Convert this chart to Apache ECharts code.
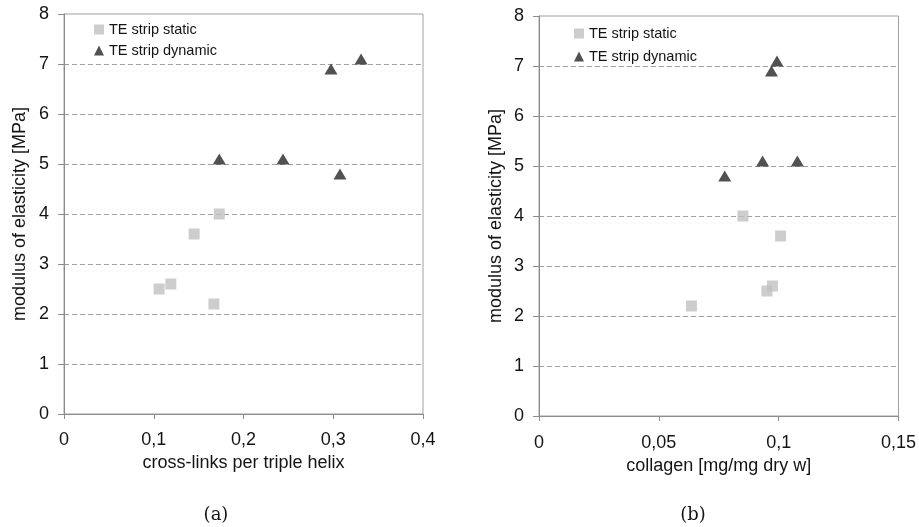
<!DOCTYPE html>
<html>
<head>
<meta charset="utf-8">
<script src="https://cdn.jsdelivr.net/npm/echarts@6/dist/echarts.min.js"></script>
<style>
  html, body { margin: 0; padding: 0; background: #fff; }
  #chart { width: 919px; height: 527px; }
</style>
</head>
<body>
<div id="chart"></div>
<script>
// Panel (a): modulus vs. cross-links per triple helix
const crossLinksStatic = [0.106, 0.119, 0.145, 0.173, 0.167];
const modulusStaticA = [2.5, 2.6, 3.6, 4.0, 2.2];
const crossLinksDynamic = [0.173, 0.244, 0.2975, 0.331, 0.3075];
const modulusDynamicA = [5.1, 5.1, 6.9, 7.1, 4.8];

// Panel (b): modulus vs. collagen content
const collagenStatic = [0.0636, 0.0851, 0.1008, 0.0951, 0.0974];
const modulusStaticB = [2.2, 4.0, 3.6, 2.5, 2.6];
const collagenDynamic = [0.0775, 0.0933, 0.1078, 0.097, 0.0993];
const modulusDynamicB = [4.8, 5.1, 5.1, 6.9, 7.1];

const seriesNames = ['TE strip static', 'TE strip dynamic'];
const xAxisTitles = ['cross-links per triple helix', 'collagen [mg/mg dry w]'];
const yAxisTitle = 'modulus of elasticity [MPa]';
const panelCaptions = ['(a)', '(b)'];

const zip = (xs, ys) => xs.map((x, i) => [x, ys[i]]);
const commaNum = v => String(Number(v.toFixed(3))).replace('.', ',');

const FONT = '"Liberation Sans", Arial, sans-serif';
const axisGrey = '#8c8c8c';
const ink = '#141414';

function xAxisFor(gridIndex, max, interval, title, nameGap, margin) {
  return {
    type: 'value', gridIndex, min: 0, max, interval,
    name: title, nameLocation: 'middle', nameGap,
    nameTextStyle: { fontFamily: FONT, fontSize: 18, color: ink },
    axisLine: { show: true, lineStyle: { color: axisGrey, width: 1 } },
    axisTick: { show: true, length: 5, lineStyle: { color: axisGrey } },
    axisLabel: { fontFamily: FONT, fontSize: 18, color: ink, margin, formatter: commaNum },
    splitLine: { show: false }
  };
}

function yAxisFor(gridIndex, nameGap) {
  return {
    type: 'value', gridIndex, min: 0, max: 8, interval: 1,
    name: yAxisTitle, nameLocation: 'middle', nameGap, nameRotate: 90,
    nameTextStyle: { fontFamily: FONT, fontSize: 18, color: ink },
    axisLine: { show: true, lineStyle: { color: axisGrey, width: 1 } },
    axisTick: { show: true, length: 6, lineStyle: { color: axisGrey } },
    axisLabel: { fontFamily: FONT, fontSize: 18, color: ink, margin: 15 },
    splitLine: {
      show: true,
      lineStyle: { color: '#a0a0a0', type: [5, 3], width: 1 },
      showMinLine: false, showMaxLine: false
    }
  };
}

function legendAt(left, top, gap) {
  return {
    orient: 'vertical', left, top, itemGap: gap, padding: 0,
    itemWidth: 10, itemHeight: 10,
    textStyle: { fontFamily: FONT, fontSize: 14.5, color: ink, lineHeight: 12 },
    data: [
      { name: seriesNames[0], icon: 'rect' },
      { name: seriesNames[1], icon: 'triangle' }
    ],
    selectedMode: false
  };
}

const staticStyle = { symbol: 'rect', symbolSize: 11, itemStyle: { color: '#c0c0c0' } };
const dynamicStyle = { symbol: 'triangle', symbolSize: [13, 11], itemStyle: { color: '#262626' } };

const option = {
  animation: false,
  backgroundColor: '#ffffff',
  grid: [
    { left: 64, right: 496, top: 14, bottom: 113, show: true, borderColor: '#a0a0a0', borderWidth: 1 },
    { left: 539, right: 20, top: 16, bottom: 111, show: true, borderColor: '#a0a0a0', borderWidth: 1 }
  ],
  xAxis: [
    xAxisFor(0, 0.4, 0.1, xAxisTitles[0], 37, 17),
    xAxisFor(1, 0.15, 0.05, xAxisTitles[1], 38, 18)
  ],
  yAxis: [yAxisFor(0, 35), yAxisFor(1, 34)],
  legend: [legendAt(94, 22, 6), legendAt(574, 26, 8)],
  series: [
    Object.assign({ type: 'scatter', name: seriesNames[0], xAxisIndex: 0, yAxisIndex: 0,
      data: zip(crossLinksStatic, modulusStaticA) }, staticStyle),
    Object.assign({ type: 'scatter', name: seriesNames[1], xAxisIndex: 0, yAxisIndex: 0,
      data: zip(crossLinksDynamic, modulusDynamicA) }, dynamicStyle),
    Object.assign({ type: 'scatter', name: seriesNames[0], xAxisIndex: 1, yAxisIndex: 1,
      data: zip(collagenStatic, modulusStaticB) }, staticStyle),
    Object.assign({ type: 'scatter', name: seriesNames[1], xAxisIndex: 1, yAxisIndex: 1,
      data: zip(collagenDynamic, modulusDynamicB) }, dynamicStyle)
  ],
  graphic: panelCaptions.map((txt, i) => ({
    type: 'text',
    x: i === 0 ? 216 : 693,
    y: 515,
    style: {
      text: txt,
      fontFamily: '"DejaVu Serif", "Liberation Serif", serif',
      fontSize: 18,
      fill: ink,
      textAlign: 'center',
      textVerticalAlign: 'middle'
    }
  }))
};

const chart = echarts.init(document.getElementById('chart'), null, { renderer: 'canvas' });
chart.setOption(option);
</script>
</body>
</html>
